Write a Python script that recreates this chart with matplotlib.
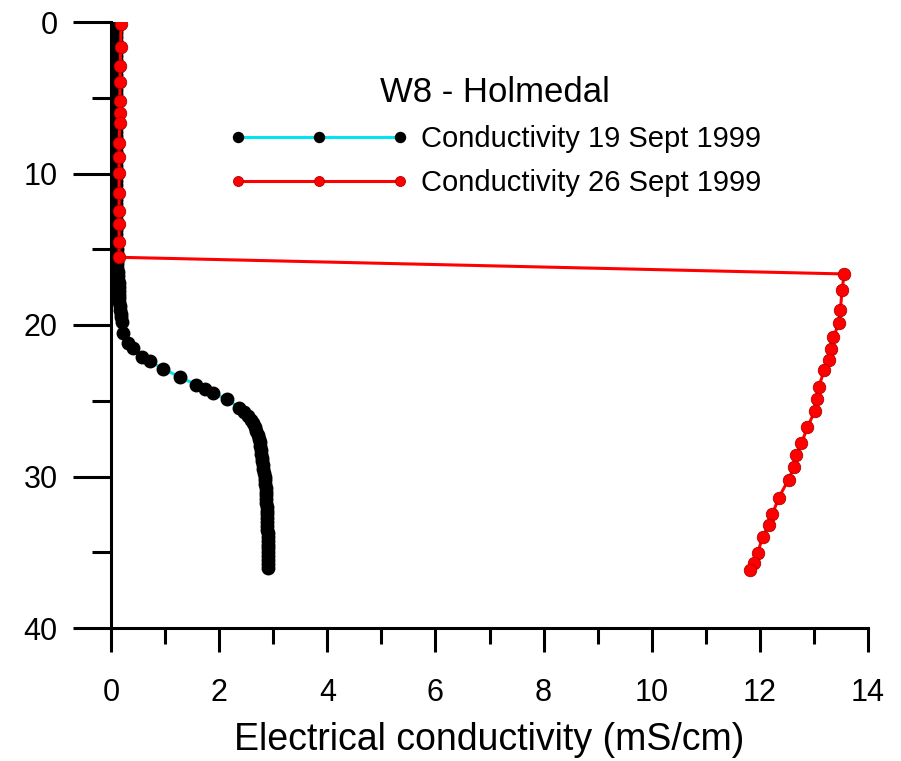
import matplotlib
matplotlib.use("Agg")
import matplotlib.pyplot as plt

plt.rcParams['font.family'] = ['Liberation Sans', 'DejaVu Sans']

# 19 Sept 1999 profile: depth (m) and conductivity (mS/cm)
depth_19 = [0.0, 0.25, 0.5, 0.75, 1.0, 1.25, 1.5, 1.75, 2.0, 2.25, 2.5, 2.75, 3.0, 3.25, 3.5,
            3.75, 4.0, 4.25, 4.5, 4.75, 5.0, 5.25, 5.5, 5.75, 6.0, 6.25, 6.5, 6.75, 7.0, 7.25,
            7.5, 7.75, 8.0, 8.25, 8.5, 8.75, 9.0, 9.25, 9.5, 9.75, 10.0, 10.25, 10.5, 10.75,
            11.0, 11.25, 11.5, 11.75, 12.0, 12.25, 12.5, 12.75, 13.0, 13.25, 13.5, 13.75, 14.0,
            14.25, 14.5, 14.75, 15.0, 15.25, 15.5, 15.75, 16.0, 16.25, 16.5, 16.75, 17.0, 17.25,
            17.5, 17.75, 18.0, 18.25, 18.5, 18.75, 19.0, 19.25, 19.5, 19.8, 20.5, 21.2, 21.5,
            22.1, 22.4, 22.9, 23.45, 23.95, 24.2, 24.5, 24.9, 25.45, 25.75, 26.0, 26.25, 26.5,
            26.75, 27.0, 27.25, 27.5, 27.75, 28.0, 28.25, 28.5, 28.75, 29.0, 29.25, 29.5, 29.75,
            30.0, 30.25, 30.5, 30.75, 31.0, 31.25, 31.5, 31.75, 32.0, 32.25, 32.5, 32.75, 33.0,
            33.25, 33.5, 33.75, 34.0, 34.25, 34.5, 34.75, 35.0, 35.25, 35.5, 35.75, 36.05]
cond_19 = [0.10, 0.09, 0.09, 0.09, 0.09, 0.09, 0.09, 0.09, 0.09, 0.09, 0.09, 0.09, 0.09, 0.09, 0.09,
           0.09, 0.09, 0.09, 0.09, 0.09, 0.09, 0.09, 0.09, 0.09, 0.09, 0.09, 0.09, 0.09, 0.09, 0.09,
           0.09, 0.09, 0.09, 0.09, 0.09, 0.09, 0.09, 0.09, 0.09, 0.09, 0.09, 0.09, 0.09, 0.09,
           0.09, 0.09, 0.09, 0.09, 0.09, 0.09, 0.09, 0.09, 0.10, 0.10, 0.10, 0.10, 0.10,
           0.10, 0.10, 0.10, 0.11, 0.11, 0.11, 0.12, 0.12, 0.12, 0.13, 0.13, 0.13, 0.14,
           0.14, 0.14, 0.15, 0.15, 0.15, 0.16, 0.17, 0.18, 0.19, 0.20, 0.23, 0.32, 0.40,
           0.57, 0.72, 0.97, 1.28, 1.58, 1.74, 1.89, 2.14, 2.37, 2.46, 2.54, 2.59, 2.63,
           2.66, 2.69, 2.71, 2.73, 2.75, 2.76, 2.77, 2.78, 2.79, 2.80, 2.81, 2.82, 2.83,
           2.84, 2.85, 2.85, 2.86, 2.86, 2.87, 2.87, 2.87, 2.88, 2.88, 2.88, 2.89, 2.89,
           2.89, 2.89, 2.90, 2.90, 2.90, 2.90, 2.90, 2.91, 2.91, 2.91, 2.91, 2.91]

# 26 Sept 1999 profile
depth_26 = [0.13, 1.63, 2.9, 3.94, 5.19, 6.03, 6.68, 7.97, 8.94, 9.95, 11.3, 12.45, 13.33, 14.5,
            15.53, 16.63, 17.69, 19.0, 19.9, 20.8, 21.6, 22.3, 23.0, 24.07, 24.9, 25.65, 26.75,
            27.8, 28.6, 29.4, 30.2, 31.4, 32.5, 33.2, 33.97, 35.07, 35.7, 36.17]
cond_26 = [0.185, 0.18, 0.17, 0.17, 0.16, 0.16, 0.16, 0.15, 0.15, 0.15, 0.15, 0.15, 0.15, 0.15,
           0.15, 13.56, 13.52, 13.49, 13.46, 13.36, 13.32, 13.27, 13.19, 13.09, 13.05, 13.02, 12.88,
           12.77, 12.67, 12.63, 12.53, 12.35, 12.23, 12.17, 12.05, 11.96, 11.90, 11.82]

label_19 = "Conductivity 19 Sept 1999"
label_26 = "Conductivity 26 Sept 1999"
legend_title = "W8 - Holmedal"
x_label = "Electrical conductivity (mS/cm)"
x_ticks = [0, 2, 4, 6, 8, 10, 12, 14]
y_ticks = [0, 10, 20, 30, 40]

fig = plt.figure(figsize=(9.01, 7.61), dpi=100)
ax = fig.add_axes([111/901, 1 - 628/761, (868 - 111)/901, (628 - 22)/761])

ax.plot(cond_19, depth_19, color='#00e5f0', lw=2.2, marker='o', ms=9,
        mfc='black', mec='black', label=label_19, zorder=3)
ax.plot(cond_26, depth_26, color='#ff0000', lw=2.2, marker='o', ms=9,
        mfc='#ff0000', mec='#b00000', mew=0.6, label=label_26, zorder=4)

ax.set_xlim(0, 14)
ax.set_ylim(40, 0)
ax.set_xticks(x_ticks)
ax.set_yticks(y_ticks)
ax.set_xticks([1, 3, 5, 7, 9, 11, 13], minor=True)
ax.set_yticks([5, 15, 25, 35], minor=True)

for s in ['top', 'right']:
    ax.spines[s].set_visible(False)
for s in ['left', 'bottom']:
    ax.spines[s].set_linewidth(2.2)

ax.tick_params(axis='x', which='major', direction='out', length=17, width=2.2,
               pad=19, labelsize=22)
ax.tick_params(axis='x', which='minor', direction='out', length=11.5, width=2.2)
ax.tick_params(axis='y', which='major', direction='out', length=27.5, width=2.2,
               pad=11, labelsize=22)
ax.tick_params(axis='y', which='minor', direction='out', length=14, width=2.2)

ax.set_xlabel(x_label, fontsize=27, labelpad=10)

leg = ax.legend(loc='upper left', bbox_to_anchor=(229/901, 1 - 76/761),
                bbox_transform=fig.transFigure, frameon=False, fontsize=21,
                title=legend_title, title_fontsize=25, numpoints=3,
                handlelength=6.15, handletextpad=0.43, labelspacing=0.55,
                borderpad=0, borderaxespad=0, markerscale=0.8)

fig.savefig("out.png", dpi=100)
